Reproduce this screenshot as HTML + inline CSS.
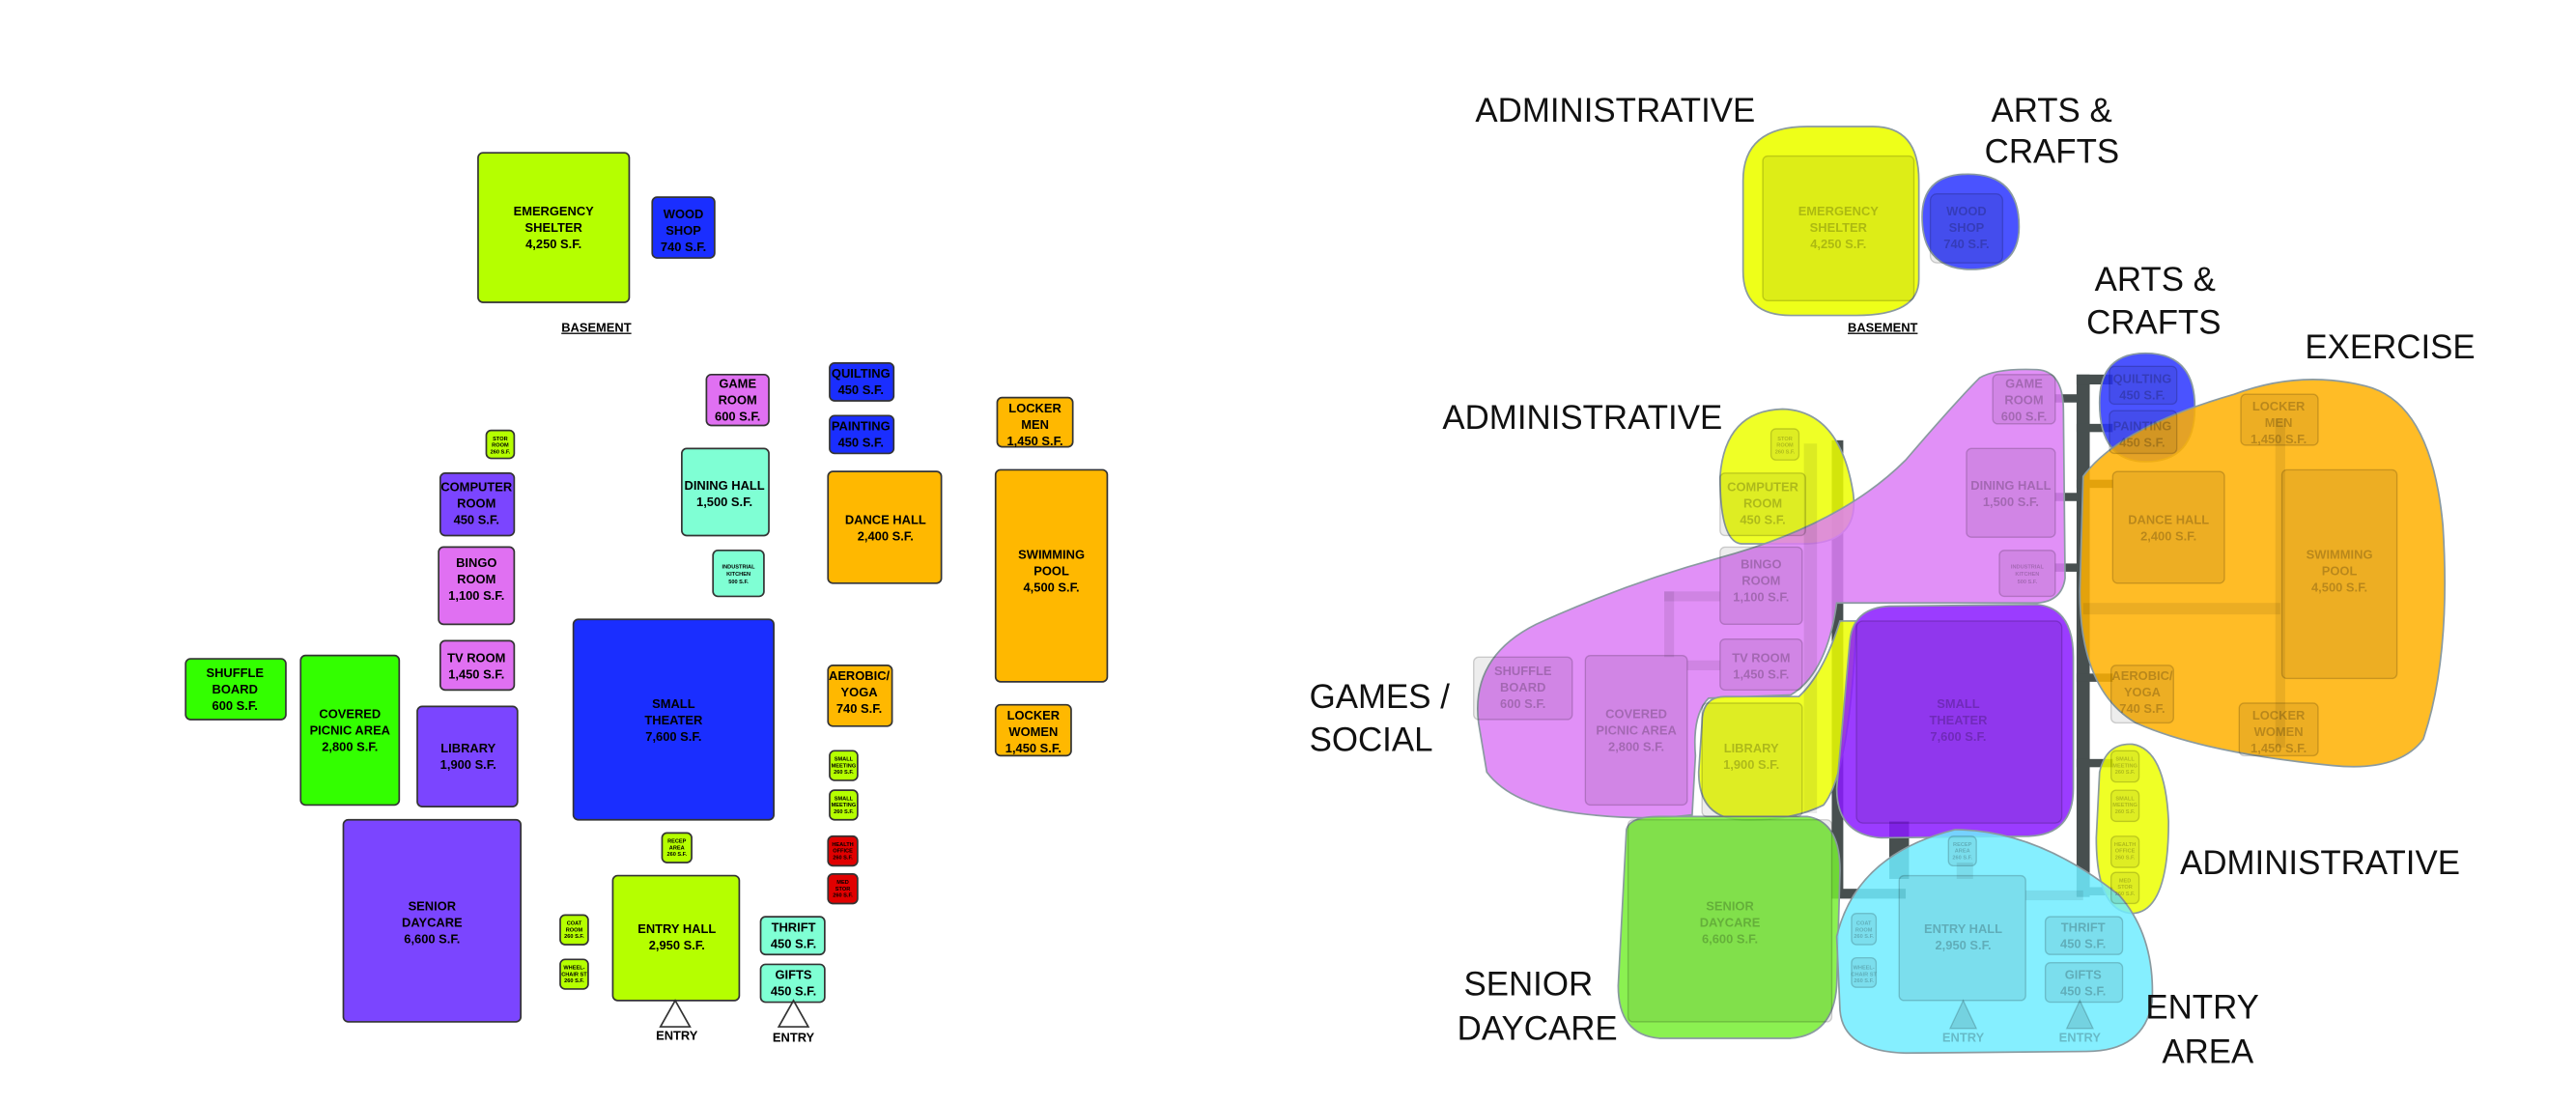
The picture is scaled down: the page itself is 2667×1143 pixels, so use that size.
<!DOCTYPE html>
<html><head><meta charset="utf-8"><style>
html,body{margin:0;padding:0;background:#fff;}
svg{display:block;}
.b text{font-family:"Liberation Sans",sans-serif;font-weight:bold;text-anchor:middle;fill:#000;}
.r text{font-family:"Liberation Sans",sans-serif;font-weight:bold;text-anchor:middle;fill:rgba(0,0,0,0.22);}
.lab{font-family:"Liberation Sans",sans-serif;font-size:20.5px;fill:#111;}
</style></head><body>
<svg width="2667" height="1143" viewBox="0 0 1568 672" xmlns="http://www.w3.org/2000/svg">
<rect width="1568" height="672" fill="#fff"/>
<!-- LEFT DIAGRAM -->
<g class="b" stroke="#333" stroke-width="1">
<rect x="291" y="93" width="92" height="91" rx="3" fill="#b5ff00"/>
<rect x="397" y="120" width="38" height="37" rx="3" fill="#1a2eff"/>
<rect x="430" y="228" width="38" height="31" rx="3" fill="#e070f2"/>
<rect x="505" y="221" width="39" height="23" rx="3" fill="#1a2eff"/>
<rect x="505" y="253" width="39" height="23" rx="3" fill="#1a2eff"/>
<rect x="607" y="242" width="46" height="30" rx="3" fill="#ffb800"/>
<rect x="296" y="262" width="17" height="17" rx="3" fill="#b5ff00"/>
<rect x="415" y="273" width="53" height="53" rx="3" fill="#7fffd4"/>
<rect x="268" y="288" width="45" height="38" rx="3" fill="#7b45ff"/>
<rect x="504" y="287" width="69" height="68" rx="3" fill="#ffb800"/>
<rect x="606" y="286" width="68" height="129" rx="3" fill="#ffb800"/>
<rect x="434" y="335" width="31" height="28" rx="3" fill="#7fffd4"/>
<rect x="267" y="333" width="46" height="47" rx="3" fill="#e070f2"/>
<rect x="268" y="390" width="45" height="30" rx="3" fill="#e070f2"/>
<rect x="349" y="377" width="122" height="122" rx="3" fill="#1a2eff"/>
<rect x="113" y="401" width="61" height="37" rx="3" fill="#33ff00"/>
<rect x="183" y="399" width="60" height="91" rx="3" fill="#33ff00"/>
<rect x="254" y="430" width="61" height="61" rx="3" fill="#7b45ff"/>
<rect x="504" y="405" width="39" height="37" rx="3" fill="#ffb800"/>
<rect x="606" y="429" width="46" height="31" rx="3" fill="#ffb800"/>
<rect x="505" y="457" width="17" height="18" rx="3" fill="#b5ff00"/>
<rect x="505" y="481" width="17" height="18" rx="3" fill="#b5ff00"/>
<rect x="504" y="509" width="18" height="18" rx="3" fill="#e00000"/>
<rect x="504" y="532" width="18" height="18" rx="3" fill="#e00000"/>
<rect x="403" y="507" width="18" height="18" rx="3" fill="#b5ff00"/>
<rect x="209" y="499" width="108" height="123" rx="3" fill="#7b45ff"/>
<rect x="341" y="557" width="17" height="18" rx="3" fill="#b5ff00"/>
<rect x="341" y="584" width="17" height="18" rx="3" fill="#b5ff00"/>
<rect x="373" y="533" width="77" height="76" rx="3" fill="#b5ff00"/>
<rect x="463" y="558" width="39" height="23" rx="3" fill="#7fffd4"/>
<rect x="463" y="587" width="39" height="23" rx="3" fill="#7fffd4"/>
<path d="M411 609 L402 625 L420 625 Z M483 609 L474 625 L492 625 Z" fill="none"/>
</g>
<g class="b" font-size="7.6">
<text x="337" y="131">EMERGENCY</text><text x="337" y="141">SHELTER</text><text x="337" y="151">4,250 S.F.</text>
<text x="416" y="133">WOOD</text><text x="416" y="143">SHOP</text><text x="416" y="153">740 S.F.</text>
<text x="449" y="236">GAME</text><text x="449" y="246">ROOM</text><text x="449" y="256">600 S.F.</text>
<text x="524" y="230">QUILTING</text><text x="524" y="240">450 S.F.</text>
<text x="524" y="262">PAINTING</text><text x="524" y="272">450 S.F.</text>
<text x="630" y="251">LOCKER</text><text x="630" y="261">MEN</text><text x="630" y="271">1,450 S.F.</text>
<text x="441" y="298">DINING HALL</text><text x="441" y="308">1,500 S.F.</text>
<text x="290" y="299">COMPUTER</text><text x="290" y="309">ROOM</text><text x="290" y="319">450 S.F.</text>
<text x="539" y="319">DANCE HALL</text><text x="539" y="329">2,400 S.F.</text>
<text x="640" y="340">SWIMMING</text><text x="640" y="350">POOL</text><text x="640" y="360">4,500 S.F.</text>
<text x="290" y="345">BINGO</text><text x="290" y="355">ROOM</text><text x="290" y="365">1,100 S.F.</text>
<text x="290" y="403">TV ROOM</text><text x="290" y="413">1,450 S.F.</text>
<text x="410" y="431">SMALL</text><text x="410" y="441">THEATER</text><text x="410" y="451">7,600 S.F.</text>
<text x="143" y="412">SHUFFLE</text><text x="143" y="422">BOARD</text><text x="143" y="432">600 S.F.</text>
<text x="213" y="437">COVERED</text><text x="213" y="447">PICNIC AREA</text><text x="213" y="457">2,800 S.F.</text>
<text x="285" y="458">LIBRARY</text><text x="285" y="468">1,900 S.F.</text>
<text x="523" y="414">AEROBIC/</text><text x="523" y="424">YOGA</text><text x="523" y="434">740 S.F.</text>
<text x="629" y="438">LOCKER</text><text x="629" y="448">WOMEN</text><text x="629" y="458">1,450 S.F.</text>
<text x="263" y="554">SENIOR</text><text x="263" y="564">DAYCARE</text><text x="263" y="574">6,600 S.F.</text>
<text x="412" y="568">ENTRY HALL</text><text x="412" y="578">2,950 S.F.</text>
<text x="483" y="567">THRIFT</text><text x="483" y="577">450 S.F.</text>
<text x="483" y="596">GIFTS</text><text x="483" y="606">450 S.F.</text>
<text x="412" y="633">ENTRY</text><text x="483" y="634">ENTRY</text>
<text x="363" y="202" text-decoration="underline">BASEMENT</text>
</g>
<g class="b" font-size="3.3">
<text x="304.5" y="268">STOR</text><text x="304.5" y="272">ROOM</text><text x="304.5" y="276">260 S.F.</text>
<text x="449.5" y="346">INDUSTRIAL</text><text x="449.5" y="350.5">KITCHEN</text><text x="449.5" y="355">500 S.F.</text>
<text x="513.5" y="463">SMALL</text><text x="513.5" y="467">MEETING</text><text x="513.5" y="471">260 S.F.</text>
<text x="513.5" y="487">SMALL</text><text x="513.5" y="491">MEETING</text><text x="513.5" y="495">260 S.F.</text>
<text x="513" y="515">HEALTH</text><text x="513" y="519">OFFICE</text><text x="513" y="523">260 S.F.</text>
<text x="513" y="538">MED</text><text x="513" y="542">STOR</text><text x="513" y="546">260 S.F.</text>
<text x="412" y="513">RECEP</text><text x="412" y="517">AREA</text><text x="412" y="521">260 S.F.</text>
<text x="349.5" y="563">COAT</text><text x="349.5" y="567">ROOM</text><text x="349.5" y="571">260 S.F.</text>
<text x="349.5" y="590">WHEEL-</text><text x="349.5" y="594">CHAIR ST</text><text x="349.5" y="598">260 S.F.</text>
</g>

<!-- RIGHT DIAGRAM -->
<!-- gray connectors -->
<g fill="#474f4f">
<rect x="1264" y="228" width="8" height="318"/>
<rect x="1264" y="228" width="22" height="6"/>
<rect x="1264" y="258" width="22" height="5"/>
<rect x="1264" y="292" width="22" height="5"/>
<rect x="1264" y="410" width="22" height="5"/>
<rect x="1264" y="462" width="22" height="5"/>
<rect x="1264" y="540" width="22" height="5"/>
<rect x="1251" y="240" width="14" height="5"/>
<rect x="1251" y="300" width="14" height="5"/>
<rect x="1251" y="343" width="14" height="5"/>
<rect x="1115" y="268" width="7" height="278"/>
<rect x="1115" y="541" width="45" height="6"/>
<rect x="1150" y="500" width="12" height="35"/>
</g>
<!-- blobs -->
<g stroke="#8a9aa0" stroke-width="1">
<path d="M1061 110 Q1061 77 1100 77 L1140 77 Q1168 77 1168 110 L1168 170 Q1168 192 1130 192 L1090 192 Q1061 192 1061 165 Z" fill="#ecff00" fill-opacity="0.9"/>
<path d="M1170 132 Q1170 106 1198 106 Q1229 106 1229 138 Q1229 164 1200 164 Q1170 164 1170 132 Z" fill="#2a35ff" fill-opacity="0.85"/>
<path d="M1278 245 Q1278 215 1306 215 Q1336 215 1336 248 Q1336 281 1306 281 Q1278 281 1278 245 Z" fill="#2a35ff" fill-opacity="0.85"/>
<path d="M1268 290 Q1290 260 1360 240 Q1400 225 1440 235 Q1480 245 1487 320 Q1492 400 1475 450 Q1460 470 1420 466 Q1340 458 1300 440 Q1266 420 1266 360 Z" fill="#ffb000" fill-opacity="0.85"/>
<path d="M1047 290 Q1050 250 1085 249 Q1120 250 1128 300 Q1132 330 1100 331 L1060 331 Q1047 330 1047 290 Z" fill="#ecff00" fill-opacity="0.85"/>
<path d="M900 440 Q895 400 935 380 Q990 355 1045 340 Q1120 320 1160 280 Q1190 245 1205 230 Q1215 224 1240 225 Q1256 226 1256 250 L1257 352 Q1255 366 1240 367 L1118 367 Q1112 410 1090 423 L1040 425 Q1030 435 1032 460 L1030 496 Q1000 500 960 495 Q920 490 905 470 Z" fill="#dc7cf6" fill-opacity="0.85"/>
<path d="M1036 440 Q1036 424 1050 424 L1095 424 Q1110 410 1120 378 L1130 378 Q1126 470 1110 490 Q1090 500 1060 499 Q1034 498 1034 470 Z" fill="#ecff00" fill-opacity="0.85"/>
<path d="M1126 390 Q1128 370 1150 369 L1240 368 Q1262 370 1262 400 L1262 480 Q1262 508 1235 509 L1145 510 Q1118 508 1118 480 Z" fill="#8a1aff" fill-opacity="0.85"/>
<path d="M1278 470 Q1282 452 1298 453 Q1318 456 1320 500 Q1320 555 1298 556 Q1276 555 1276 510 Z" fill="#ecff00" fill-opacity="0.85"/>
<path d="M990 505 Q992 497 1010 497 L1100 497 Q1120 500 1120 530 L1118 600 Q1116 630 1090 632 L1010 632 Q985 630 985 600 Z" fill="#77ee33" fill-opacity="0.85"/>
<path d="M1118 570 Q1130 520 1190 505 Q1240 505 1290 545 Q1312 570 1310 610 Q1305 640 1270 640 L1160 641 Q1122 640 1120 615 Z" fill="#70ecff" fill-opacity="0.85"/>
</g>
<!-- light internal connectors -->
<g fill="#000" fill-opacity="0.08">
<rect x="1385" y="255" width="6" height="200"/>
<rect x="1268" y="367" width="120" height="7"/>
<rect x="1013" y="360" width="34" height="6"/>
<rect x="1013" y="360" width="6" height="40"/>
<rect x="1027" y="402" width="20" height="6"/>
<rect x="1098" y="270" width="8" height="225"/>
<rect x="1191" y="525" width="10" height="10"/>
<rect x="1233" y="542" width="35" height="6"/>
</g>
<!-- inner boxes -->
<g stroke="#000" stroke-opacity="0.18" stroke-width="0.8" fill="#000" fill-opacity="0.07">
<rect x="1073" y="95" width="92" height="88" rx="3"/>
<rect x="1175" y="118" width="44" height="42" rx="4"/>
<rect x="1213" y="228" width="38" height="30" rx="3"/>
<rect x="1284" y="223" width="41" height="23" rx="3"/>
<rect x="1284" y="250" width="41" height="26" rx="3"/>
<rect x="1364" y="240" width="47" height="31" rx="3"/>
<rect x="1389" y="286" width="70" height="127" rx="3"/>
<rect x="1286" y="287" width="68" height="68" rx="3"/>
<rect x="1285" y="405" width="38" height="35" rx="3"/>
<rect x="1363" y="428" width="48" height="32" rx="3"/>
<rect x="1078" y="261" width="17" height="19" rx="3"/>
<rect x="1047" y="288" width="52" height="38" rx="3"/>
<rect x="1197" y="273" width="54" height="54" rx="3"/>
<rect x="1217" y="335" width="34" height="28" rx="3"/>
<rect x="1047" y="333" width="50" height="47" rx="3"/>
<rect x="1047" y="389" width="50" height="31" rx="3"/>
<rect x="897" y="400" width="60" height="38" rx="3"/>
<rect x="965" y="399" width="62" height="91" rx="3"/>
<rect x="1036" y="428" width="61" height="69" rx="3"/>
<rect x="1130" y="378" width="125" height="123" rx="4"/>
<rect x="1285" y="457" width="17" height="19" rx="3"/>
<rect x="1285" y="481" width="17" height="19" rx="3"/>
<rect x="1285" y="509" width="17" height="19" rx="3"/>
<rect x="1285" y="531" width="17" height="19" rx="3"/>
<rect x="991" y="499" width="124" height="123" rx="3"/>
<rect x="1156" y="533" width="77" height="76" rx="3"/>
<rect x="1245" y="558" width="47" height="23" rx="3"/>
<rect x="1245" y="586" width="47" height="24" rx="3"/>
<rect x="1186" y="509" width="17" height="18" rx="3"/>
<rect x="1127" y="556" width="15" height="19" rx="3"/>
<rect x="1127" y="583" width="15" height="18" rx="3"/>
<path d="M1195 609 L1187 626 L1203 626 Z M1266 609 L1258 626 L1274 626 Z" fill-opacity="0.12"/>
</g>
<g class="r" font-size="7.6">
<text x="1119" y="131">EMERGENCY</text><text x="1119" y="141">SHELTER</text><text x="1119" y="151">4,250 S.F.</text>
<text x="1197" y="131">WOOD</text><text x="1197" y="141">SHOP</text><text x="1197" y="151">740 S.F.</text>
<text x="1232" y="236">GAME</text><text x="1232" y="246">ROOM</text><text x="1232" y="256">600 S.F.</text>
<text x="1304" y="233">QUILTING</text><text x="1304" y="243">450 S.F.</text>
<text x="1304" y="262">PAINTING</text><text x="1304" y="272">450 S.F.</text>
<text x="1387" y="250">LOCKER</text><text x="1387" y="260">MEN</text><text x="1387" y="270">1,450 S.F.</text>
<text x="1224" y="298">DINING HALL</text><text x="1224" y="308">1,500 S.F.</text>
<text x="1073" y="299">COMPUTER</text><text x="1073" y="309">ROOM</text><text x="1073" y="319">450 S.F.</text>
<text x="1320" y="319">DANCE HALL</text><text x="1320" y="329">2,400 S.F.</text>
<text x="1424" y="340">SWIMMING</text><text x="1424" y="350">POOL</text><text x="1424" y="360">4,500 S.F.</text>
<text x="1072" y="346">BINGO</text><text x="1072" y="356">ROOM</text><text x="1072" y="366">1,100 S.F.</text>
<text x="1072" y="403">TV ROOM</text><text x="1072" y="413">1,450 S.F.</text>
<text x="1192" y="431">SMALL</text><text x="1192" y="441">THEATER</text><text x="1192" y="451">7,600 S.F.</text>
<text x="927" y="411">SHUFFLE</text><text x="927" y="421">BOARD</text><text x="927" y="431">600 S.F.</text>
<text x="996" y="437">COVERED</text><text x="996" y="447">PICNIC AREA</text><text x="996" y="457">2,800 S.F.</text>
<text x="1066" y="458">LIBRARY</text><text x="1066" y="468">1,900 S.F.</text>
<text x="1304" y="414">AEROBIC/</text><text x="1304" y="424">YOGA</text><text x="1304" y="434">740 S.F.</text>
<text x="1387" y="438">LOCKER</text><text x="1387" y="448">WOMEN</text><text x="1387" y="458">1,450 S.F.</text>
<text x="1053" y="554">SENIOR</text><text x="1053" y="564">DAYCARE</text><text x="1053" y="574">6,600 S.F.</text>
<text x="1195" y="568">ENTRY HALL</text><text x="1195" y="578">2,950 S.F.</text>
<text x="1268" y="567">THRIFT</text><text x="1268" y="577">450 S.F.</text>
<text x="1268" y="596">GIFTS</text><text x="1268" y="606">450 S.F.</text>
<text x="1195" y="634">ENTRY</text><text x="1266" y="634">ENTRY</text>
</g>
<g class="r" font-size="3.3">
<text x="1086.5" y="268">STOR</text><text x="1086.5" y="272">ROOM</text><text x="1086.5" y="276">260 S.F.</text>
<text x="1234" y="346">INDUSTRIAL</text><text x="1234" y="350.5">KITCHEN</text><text x="1234" y="355">500 S.F.</text>
<text x="1293.5" y="463">SMALL</text><text x="1293.5" y="467">MEETING</text><text x="1293.5" y="471">260 S.F.</text>
<text x="1293.5" y="487">SMALL</text><text x="1293.5" y="491">MEETING</text><text x="1293.5" y="495">260 S.F.</text>
<text x="1293.5" y="515">HEALTH</text><text x="1293.5" y="519">OFFICE</text><text x="1293.5" y="523">260 S.F.</text>
<text x="1293.5" y="537">MED</text><text x="1293.5" y="541">STOR</text><text x="1293.5" y="545">260 S.F.</text>
<text x="1194.5" y="515">RECEP</text><text x="1194.5" y="519">AREA</text><text x="1194.5" y="523">260 S.F.</text>
<text x="1134.5" y="563">COAT</text><text x="1134.5" y="567">ROOM</text><text x="1134.5" y="571">260 S.F.</text>
<text x="1134.5" y="590">WHEEL-</text><text x="1134.5" y="594">CHAIR ST</text><text x="1134.5" y="598">260 S.F.</text>
</g>
<g style="font-family:'Liberation Sans',sans-serif;font-weight:bold;font-size:7.6px" text-anchor="middle">
<text x="1146" y="202" text-decoration="underline">BASEMENT</text>
</g>
<!-- category labels -->
<g class="lab">
<text x="898" y="74">ADMINISTRATIVE</text>
<text x="1212" y="74">ARTS &amp;</text><text x="1208" y="99">CRAFTS</text>
<text x="1275" y="177">ARTS &amp;</text><text x="1270" y="203">CRAFTS</text>
<text x="1403" y="218">EXERCISE</text>
<text x="878" y="261">ADMINISTRATIVE</text>
<text x="797" y="431">GAMES /</text><text x="797" y="457">SOCIAL</text>
<text x="1327" y="532">ADMINISTRATIVE</text>
<text x="891" y="606">SENIOR</text><text x="887" y="633">DAYCARE</text>
<text x="1306" y="620">ENTRY</text><text x="1316" y="647">AREA</text>
</g>
</svg>
</body></html>
